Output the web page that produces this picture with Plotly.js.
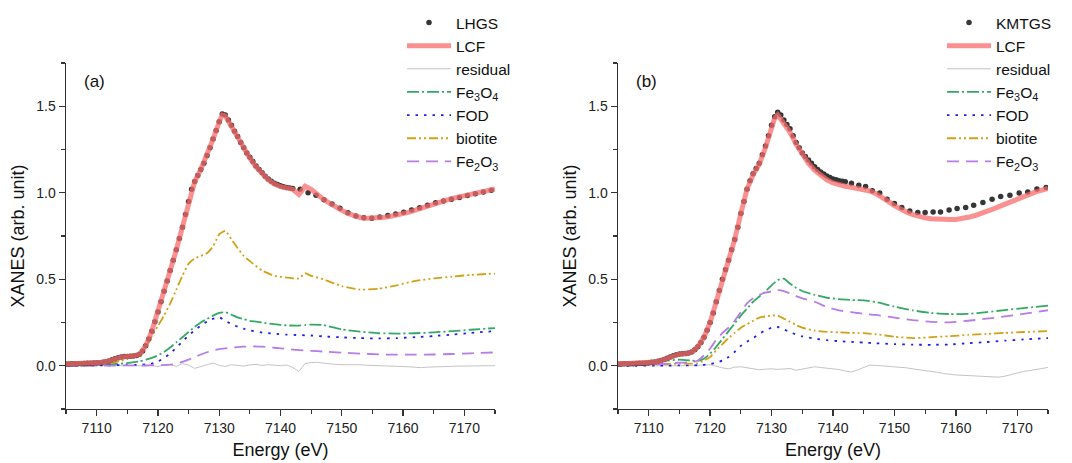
<!DOCTYPE html>
<html>
<head>
<meta charset="utf-8">
<script src="https://cdn.plot.ly/plotly-3.0.1.min.js"></script>
<style>html,body{margin:0;padding:0;background:#fff;}#chart{width:1072px;height:463px;}</style>
</head>
<body>
<div id="chart"></div>
<script>
// ---------- Panel (a): LHGS ----------
const lhgsE = [7105,7105.5,7106,7106.5,7107,7107.5,7108,7108.5,7109,7109.5,7110,7110.5,7111,7111.5,7112,7112.5,7113,7113.5,7114,7114.5,7115,7115.5,7116,7116.5,7117,7117.5,7118,7118.5,7119,7119.5,7120,7120.5,7121,7121.5,7122,7122.5,7123,7123.5,7124,7124.5,7125,7125.5,7126,7126.5,7127,7127.5,7128,7128.5,7129,7129.5,7130,7130.5,7131,7131.5,7132,7132.5,7133,7133.5,7134,7134.5,7135,7135.5,7136,7136.5,7137,7137.5,7138,7138.5,7139,7139.5,7140,7140.5,7141,7141.5,7142,
  7143.2,7144.5,7145.8,7147.1,7148.4,7149.7,7151,7152.3,7153.6,7154.9,7156.2,7157.5,7158.8,7160.1,7161.4,7162.7,7164,7165.3,7166.6,7167.9,7169.2,7170.5,7171.8,7173.1,7174.4];
const lhgsY = [0.010,0.010,0.011,0.011,0.012,0.012,0.013,0.014,0.015,0.016,0.017,0.018,0.020,0.023,0.028,0.034,0.040,0.046,0.050,0.053,0.054,0.055,0.056,0.059,0.066,0.085,0.115,0.155,0.20,0.255,0.31,0.37,0.43,0.49,0.55,0.61,0.67,0.735,0.80,0.875,0.95,1.02,1.065,1.10,1.135,1.17,1.215,1.26,1.31,1.36,1.41,1.455,1.45,1.42,1.39,1.355,1.325,1.29,1.26,1.23,1.205,1.18,1.155,1.135,1.115,1.095,1.08,1.067,1.055,1.047,1.04,1.035,1.031,1.028,1.025,
  1.02,1.0,0.985,0.96,0.935,0.91,0.885,0.865,0.855,0.853,0.86,0.868,0.877,0.887,0.9,0.914,0.928,0.942,0.953,0.963,0.973,0.984,0.994,1.004,1.015];

const lcfAE = [7105,7106,7107,7108,7109,7110,7111,7112,7113,7114,7115,7116,7117,7118,7119,7120,7121,7122,7123,7124,7125,7125.5,7126,7127,7128,7129,7130,7130.5,7131,7132,7133,7134,7135,7136,7137,7138,7139,7140,7141,7142,7142.5,7143,7143.5,7144,7145,7146,7147,7148,7149,7150,7151,7152,7153,7154,7155,7156,7157,7158,7159,7160,7161,7162,7163,7164,7165,7166,7167,7168,7169,7170,7171,7172,7173,7174,7175];
const lcfAY = [0.010,0.011,0.012,0.013,0.015,0.017,0.020,0.028,0.040,0.050,0.054,0.056,0.066,0.115,0.20,0.31,0.43,0.55,0.67,0.80,0.95,1.02,1.065,1.135,1.215,1.31,1.41,1.45,1.445,1.385,1.32,1.255,1.20,1.15,1.11,1.075,1.05,1.035,1.028,1.02,1.005,0.99,1.012,1.038,1.02,0.99,0.962,0.94,0.917,0.898,0.88,0.866,0.857,0.853,0.853,0.855,0.859,0.864,0.87,0.878,0.888,0.9,0.912,0.925,0.937,0.948,0.958,0.967,0.975,0.983,0.991,0.998,1.005,1.013,1.022];

// residual grid (shared by both panels)
const resE = [7105,7106,7107,7108,7109,7110,7111,7112,7113,7114,7115,7116,7117,7118,7119,7120,7121,7122,7123,7124,7125,7126,7127,7128,7129,7130,7131,7132,7133,7134,7135,7136,7137,7138,7139,7140,7141,7142,7143,7144,7145,7146,7147,7148,7149,7150,7151,7152,7153,7154,7155,7156,7157,7158,7159,7160,7161,7162,7163,7164,7165,7166,7167,7168,7169,7170,7171,7172,7173,7174,7175];
const resA = [0.002,0.002,0.001,0.001,0.0,0.0,0.0,-0.001,0.0,0.002,0.0,-0.001,0.0,-0.003,0.003,-0.005,0.004,0.008,-0.003,0.012,0.004,-0.015,-0.006,0.006,0.016,0.002,-0.004,0.006,0.003,-0.002,0.005,0.008,0.002,0.006,0.003,0.001,0.004,-0.01,-0.033,0.012,0.018,0.02,0.015,0.01,0.008,0.006,0.007,0.004,0.006,0.003,0.002,0.0,0.002,0.0,-0.003,-0.004,-0.006,-0.009,-0.011,-0.008,-0.006,-0.007,-0.004,-0.004,-0.002,-0.002,0.0,0.001,0.0,0.0,0.001];

// component grid (shared by both panels)
const compE = [7105,7108,7111,7113,7115,7117,7118,7119,7120,7121,7122,7123,7124,7125,7126,7127,7128,7129,7130,7131,7132,7133,7134,7135,7137,7139,7141,7143,7144,7145,7147,7150,7153,7156,7159,7162,7165,7168,7171,7175];
const fe3o4A = [0.0,0.002,0.005,0.01,0.015,0.025,0.035,0.045,0.06,0.08,0.105,0.135,0.165,0.195,0.225,0.25,0.27,0.29,0.305,0.31,0.295,0.28,0.27,0.26,0.25,0.24,0.233,0.232,0.235,0.238,0.235,0.21,0.197,0.188,0.186,0.188,0.193,0.2,0.208,0.218];
const fodA = [0.0,0.001,0.002,0.003,0.004,0.006,0.008,0.012,0.025,0.045,0.07,0.105,0.14,0.175,0.205,0.232,0.255,0.272,0.28,0.26,0.24,0.226,0.214,0.204,0.192,0.185,0.18,0.177,0.176,0.175,0.17,0.164,0.16,0.158,0.16,0.165,0.172,0.18,0.19,0.2];
const biotiteA = [0.005,0.008,0.012,0.02,0.04,0.07,0.11,0.17,0.23,0.29,0.36,0.44,0.52,0.59,0.62,0.635,0.65,0.69,0.76,0.78,0.73,0.68,0.635,0.605,0.55,0.52,0.51,0.505,0.535,0.52,0.5,0.46,0.44,0.445,0.465,0.49,0.505,0.515,0.525,0.533];
const fe2o3A = [0.0,0.0,0.001,0.001,0.002,0.002,0.002,0.003,0.003,0.004,0.006,0.012,0.022,0.035,0.05,0.065,0.078,0.088,0.096,0.1,0.105,0.108,0.11,0.112,0.11,0.104,0.097,0.09,0.088,0.086,0.082,0.076,0.07,0.066,0.064,0.064,0.065,0.068,0.072,0.077];

// ---------- Panel (b): KMTGS ----------
const kmtgsE = [7105,7105.5,7106,7106.5,7107,7107.5,7108,7108.5,7109,7109.5,7110,7110.5,7111,7111.5,7112,7112.5,7113,7113.5,7114,7114.5,7115,7115.5,7116,7116.5,7117,7117.5,7118,7118.5,7119,7119.5,7120,7120.5,7121,7121.5,7122,7122.5,7123,7123.5,7124,7124.5,7125,7125.5,7126,7126.5,7127,7127.5,7128,7128.5,7129,7129.5,7130,7130.5,7131,7131.5,7132,7132.5,7133,7133.5,7134,7134.5,7135,7135.5,7136,7136.5,7137,7137.5,7138,7138.5,7139,7139.5,7140,7140.5,7141,7141.5,7142,
  7143.0,7144.2,7145.3,7146.4,7147.6,7148.8,7150.0,7151.2,7152.5,7153.8,7155.0,7156.3,7157.5,7158.9,7160.2,7161.6,7162.9,7164.4,7165.9,7167.3,7168.8,7170.3,7171.7,7173.2,7174.7];
const kmtgsY = [0.010,0.010,0.011,0.011,0.012,0.012,0.013,0.014,0.015,0.016,0.018,0.020,0.022,0.026,0.030,0.036,0.043,0.050,0.058,0.064,0.068,0.070,0.071,0.073,0.079,0.092,0.11,0.135,0.165,0.205,0.25,0.305,0.37,0.435,0.50,0.555,0.61,0.67,0.73,0.80,0.88,0.95,1.02,1.07,1.11,1.14,1.17,1.22,1.27,1.33,1.39,1.44,1.466,1.45,1.42,1.395,1.37,1.33,1.29,1.26,1.23,1.21,1.19,1.17,1.15,1.135,1.12,1.108,1.097,1.088,1.08,1.075,1.07,1.066,1.063,
  1.055,1.044,1.036,1.011,0.998,0.963,0.938,0.915,0.895,0.886,0.886,0.889,0.889,0.90,0.909,0.915,0.928,0.944,0.963,0.978,0.986,0.998,1.005,1.021,1.031];

const lcfBE = [7105,7106,7107,7108,7109,7110,7111,7112,7113,7114,7115,7116,7117,7118,7119,7120,7121,7122,7123,7124,7125,7126,7127,7128,7129,7130,7130.5,7131,7132,7133,7134,7135,7136,7137,7138,7139,7140,7141,7142,7143,7144,7145,7146,7147,7148,7149,7150,7151,7152,7153,7154,7155,7156,7157,7158,7159,7160,7161,7162,7163,7164,7165,7166,7167,7168,7169,7170,7171,7172,7173,7174,7175];
const lcfBY = [0.010,0.011,0.012,0.013,0.015,0.018,0.022,0.030,0.043,0.058,0.068,0.071,0.079,0.11,0.165,0.25,0.37,0.50,0.61,0.73,0.88,1.02,1.105,1.165,1.26,1.38,1.43,1.45,1.405,1.35,1.28,1.22,1.17,1.13,1.10,1.075,1.057,1.045,1.038,1.032,1.027,1.02,1.01,0.995,0.975,0.95,0.925,0.905,0.888,0.874,0.863,0.855,0.85,0.847,0.845,0.845,0.846,0.85,0.858,0.867,0.878,0.89,0.905,0.92,0.935,0.95,0.965,0.98,0.993,1.005,1.015,1.025];

const resB = [0.0,0.001,0.0,0.0,0.001,0.0,-0.001,0.0,0.001,0.0,0.0,0.0,0.001,0.0,0.004,0.006,-0.004,-0.012,-0.018,-0.008,-0.006,-0.012,-0.016,-0.023,-0.02,-0.018,-0.021,-0.018,-0.016,-0.026,-0.018,-0.012,-0.006,-0.01,-0.014,-0.014,-0.022,-0.03,-0.036,-0.024,-0.008,0.004,0.002,-0.001,-0.002,-0.004,-0.006,-0.012,-0.018,-0.022,-0.026,-0.032,-0.038,-0.045,-0.05,-0.053,-0.055,-0.057,-0.058,-0.06,-0.064,-0.068,-0.066,-0.06,-0.05,-0.04,-0.033,-0.028,-0.022,-0.015,-0.01];

const fe3o4B = [0.005,0.012,0.02,0.03,0.035,0.03,0.028,0.04,0.07,0.11,0.155,0.2,0.245,0.29,0.33,0.37,0.4,0.43,0.465,0.495,0.503,0.475,0.45,0.432,0.41,0.393,0.385,0.38,0.379,0.378,0.368,0.342,0.32,0.305,0.299,0.3,0.31,0.322,0.333,0.348];
const fodB = [0.0,0.0,0.001,0.001,0.002,0.002,0.003,0.005,0.01,0.018,0.03,0.05,0.08,0.115,0.14,0.16,0.185,0.205,0.22,0.224,0.21,0.195,0.18,0.17,0.157,0.148,0.142,0.138,0.136,0.134,0.13,0.125,0.122,0.121,0.123,0.13,0.137,0.145,0.152,0.16];
const biotiteB = [0.003,0.006,0.008,0.01,0.012,0.012,0.015,0.03,0.05,0.09,0.125,0.16,0.19,0.22,0.24,0.26,0.278,0.285,0.29,0.29,0.272,0.255,0.235,0.22,0.203,0.196,0.193,0.19,0.19,0.189,0.182,0.168,0.16,0.165,0.171,0.178,0.184,0.19,0.195,0.2];
const fe2o3B = [0.002,0.005,0.008,0.012,0.018,0.02,0.03,0.06,0.1,0.15,0.19,0.22,0.26,0.31,0.36,0.39,0.41,0.422,0.43,0.437,0.432,0.418,0.402,0.39,0.37,0.34,0.32,0.31,0.305,0.3,0.294,0.278,0.264,0.254,0.251,0.26,0.272,0.285,0.3,0.321];

const sampleNames = ['LHGS', 'KMTGS'];
const compNames = ['Fe<sub>3</sub>O<sub>4</sub>', 'FOD', 'biotite', 'Fe<sub>2</sub>O<sub>3</sub>'];

// ---------- styles ----------
const COL = {
  data: '#363636', lcf: 'rgba(248,105,105,0.74)', res: '#c4c4c4',
  fe3o4: '#34a865', fod: '#1c1cf5', biotite: '#d4a017', fe2o3: '#b77ce6'
};
const DASH = {fe3o4: '12px,3px,2px,3px', fod: '2.5px,6px', biotite: '9px,3px,2px,3px,2px,3px', fe2o3: '12px,7px'};

function panel(idx, sE, sY, lE, lY, res, comps) {
  const xa = idx === 0 ? 'x' : 'x2', ya = idx === 0 ? 'y' : 'y2', lg = idx === 0 ? 'legend' : 'legend2';
  const base = {xaxis: xa, yaxis: ya, legend: lg};
  const keys = ['fe3o4', 'fod', 'biotite', 'fe2o3'];
  const out = [];
  out.push(Object.assign({type: 'scatter', mode: 'lines', x: resE, y: res, name: 'residual', legendrank: 3,
    line: {color: COL.res, width: 1}}, base));
  keys.forEach((k, i) => {
    out.push(Object.assign({type: 'scatter', mode: 'lines', x: compE, y: comps[i], name: compNames[i], legendrank: 4 + i,
      line: {color: COL[k], width: 1.8, dash: DASH[k], shape: 'spline', smoothing: 0.5}}, base));
  });
  out.push(Object.assign({type: 'scatter', mode: 'markers', x: sE, y: sY, name: sampleNames[idx], legendrank: 1,
    marker: {color: COL.data, size: 5.5}}, base));
  out.push(Object.assign({type: 'scatter', mode: 'lines', x: lE, y: lY, name: 'LCF', legendrank: 2,
    line: {color: COL.lcf, width: 5}}, base));
  return out;
}

const data = [].concat(
  panel(0, lhgsE, lhgsY, lcfAE, lcfAY, resA, [fe3o4A, fodA, biotiteA, fe2o3A]),
  panel(1, kmtgsE, kmtgsY, lcfBE, lcfBY, resB, [fe3o4B, fodB, biotiteB, fe2o3B])
);

const FONT = 'Liberation Sans, Arial, sans-serif';
function xax(domain, anchor) {
  return {domain: domain, anchor: anchor, range: [7105, 7175], tick0: 7110, dtick: 10, ticks: 'outside', ticklen: 6, tickwidth: 1.3,
    tickcolor: '#333', showline: true, linecolor: '#333', linewidth: 1.4, showgrid: false, zeroline: false,
    tickfont: {family: FONT, size: 14, color: '#222'},
    minor: {ticks: 'outside', ticklen: 4, dtick: 5, tick0: 7105, tickcolor: '#333', tickwidth: 1.2},
    title: {text: 'Energy (eV)', font: {family: FONT, size: 18, color: '#111'}, standoff: 8}, automargin: false};
}
function yax(anchor) {
  return {domain: [0, 1], anchor: anchor, range: [-0.25, 1.75], tick0: 0, dtick: 0.5, tickformat: '.1f', ticks: 'outside', ticklen: 6,
    tickwidth: 1.3, tickcolor: '#333', showline: true, linecolor: '#333', linewidth: 1.4, showgrid: false, zeroline: false,
    tickfont: {family: FONT, size: 14, color: '#222'},
    minor: {ticks: 'outside', ticklen: 4, dtick: 0.25, tick0: 0.25, tickcolor: '#333', tickwidth: 1.2},
    title: {text: 'XANES (arb. unit)', font: {family: FONT, size: 18, color: '#111'}, standoff: 7}, automargin: false};
}
function leg(xpx) {
  return {x: xpx / 1072, xanchor: 'left', y: 1.165, yanchor: 'top', bgcolor: 'rgba(0,0,0,0)', borderwidth: 0,
    font: {family: FONT, size: 15.5, color: '#111'}, itemwidth: 44, tracegroupgap: 0, traceorder: 'normal'};
}

const layout = {
  width: 1072, height: 463, margin: {l: 0, r: 0, t: 63, b: 54},
  paper_bgcolor: '#fff', plot_bgcolor: '#fff', showlegend: true,
  xaxis: xax([66 / 1072, 495 / 1072], 'y'),
  yaxis: yax('x'),
  xaxis2: xax([618 / 1072, 1048 / 1072], 'y2'),
  yaxis2: yax('x2'),
  legend: leg(402),
  legend2: leg(942),
  annotations: [
    {text: '(a)', xref: 'paper', yref: 'paper', x: 82 / 1072, y: (409 - 81) / 346, xanchor: 'left', yanchor: 'middle', showarrow: false,
      font: {family: FONT, size: 17, color: '#111'}},
    {text: '(b)', xref: 'paper', yref: 'paper', x: 634 / 1072, y: (409 - 81) / 346, xanchor: 'left', yanchor: 'middle', showarrow: false,
      font: {family: FONT, size: 17, color: '#111'}}
  ]
};

Plotly.newPlot('chart', data, layout, {displayModeBar: false, staticPlot: true});
</script>
</body>
</html>
